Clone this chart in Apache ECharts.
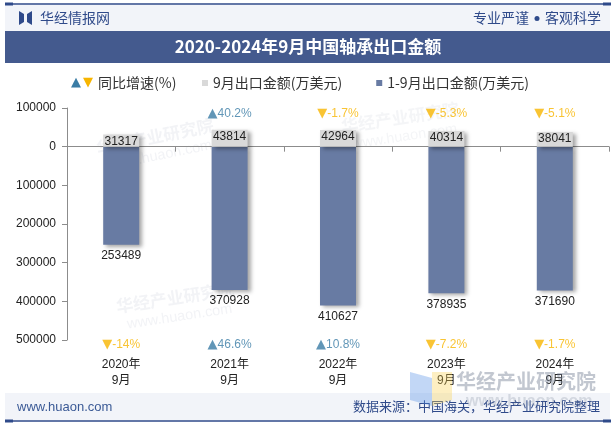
<!DOCTYPE html>
<html>
<head>
<meta charset="utf-8">
<script src="https://cdn.jsdelivr.net/npm/echarts@6/dist/echarts.min.js"></script>
<style>
html,body{margin:0;padding:0;background:#fff;}
#main{width:615px;height:427px;}
</style>
</head>
<body>
<div id="main"></div>
<script>
// ---- data ----
const categories = ['2020年\n9月', '2021年\n9月', '2022年\n9月', '2023年\n9月', '2024年\n9月'];
const septValues = [31317, 43814, 42964, 40314, 38041];          // 9月出口金额(万美元)
const ytdValues = [253489, 370928, 410627, 378935, 371690];      // 1-9月出口金额(万美元)
const septGrowth = [null, 40.2, -1.7, -5.3, -5.1];               // 9月同比增速(%)
const ytdGrowth = [-14, 46.6, 10.8, -7.2, -1.7];                 // 1-9月同比增速(%)
const yTicks = { min: -500000, max: 100000, interval: 100000 };

// ---- style ----
const UP = '#3a7ca5', DOWN = '#f7b500';
const NAVY = '#2f4a8a';
const FONT = "Arial, 'Liberation Sans', 'Noto Sans CJK SC', sans-serif";
const CJK = "'Noto Sans CJK SC', 'Liberation Sans', sans-serif";
const TRI = "'DejaVu Sans', sans-serif";

function growthText(g) {
  if (g === null || g === undefined) return '';
  return g >= 0 ? '{up|▲}{upt|' + g + '%}' : '{dn|▼}{dnt|' + g + '%}';
}
function growthSeries(arr, yPos, offY) {
  return {
    type: 'scatter',
    xAxisIndex: 0,
    symbolSize: 1,
    clip: false,
    silent: true,
    itemStyle: { color: 'rgba(0,0,0,0)' },
    z: 5,
    data: arr.map(g => g === null ? '-' : yPos),
    label: {
      show: true,
      position: 'inside',
      offset: [0, offY],
      fontSize: 12,
      fontFamily: FONT,
      formatter: p => growthText(arr[p.dataIndex]),
      rich: {
        up: { fontFamily: TRI, fontSize: 13, color: UP },
        upt: { fontFamily: FONT, fontSize: 12, color: UP },
        dn: { fontFamily: TRI, fontSize: 13, color: DOWN },
        dnt: { fontFamily: FONT, fontSize: 12, color: DOWN }
      }
    }
  };
}

const chart = echarts.init(document.getElementById('main'), null, { renderer: 'canvas' });

const wmText = (x, y, rot, size, op) => ([
  { type: 'text', x: x, y: y, rotation: rot, z: 0, silent: true,
    style: { text: '华经产业研究院', fontSize: size, fontWeight: 'bold', fontFamily: CJK, fill: 'rgba(150,160,180,' + op + ')' } },
  { type: 'text', x: x + 8 * Math.sin(rot) + 10, y: y + size + 4 - 10 * Math.sin(rot), rotation: rot, z: 0, silent: true,
    style: { text: 'www.huaon.com', fontSize: size * 0.85, fontFamily: FONT, fill: 'rgba(150,160,180,' + op + ')' } }
]);

const option = {
  backgroundColor: '#ffffff',
  animation: false,
  textStyle: { fontFamily: FONT },
  grid: { left: 67, right: 6, top: 108, bottom: 87, containLabel: false },
  legend: {
    left: 202, top: 76,
    icon: 'rect', itemWidth: 6, itemHeight: 6, itemGap: 34,
    padding: 0,
    textStyle: { fontSize: 14, color: '#333', fontFamily: CJK },
    data: ['9月出口金额(万美元)', '1-9月出口金额(万美元)']
  },
  xAxis: [
    {
      type: 'category', data: categories,
      axisLine: { onZero: true, lineStyle: { color: '#8c8c8c', width: 1 } },
      axisTick: { show: true, length: 5, lineStyle: { color: '#8c8c8c' } },
      axisLabel: { show: false }
    },
    {
      type: 'category', data: categories, position: 'bottom',
      axisLine: { show: false }, axisTick: { show: false },
      axisLabel: { show: true, margin: 17, fontSize: 12, lineHeight: 16, color: '#222', fontFamily: FONT }
    }
  ],
  yAxis: {
    type: 'value', min: yTicks.min, max: yTicks.max, interval: yTicks.interval,
    axisLine: { show: true, lineStyle: { color: '#8c8c8c' } },
    axisTick: { show: true, length: 5, lineStyle: { color: '#8c8c8c' } },
    splitLine: { show: false },
    axisLabel: { fontSize: 12, color: '#222', margin: 11, fontFamily: FONT, formatter: v => String(Math.abs(v)) }
  },
  series: [
    {
      name: '9月出口金额(万美元)', type: 'bar', xAxisIndex: 0,
      barWidth: 36, barGap: '-100%',
      data: septValues,
      itemStyle: { color: '#d9d9d9', shadowColor: 'rgba(0,0,0,0.35)', shadowBlur: 4, shadowOffsetX: 3, shadowOffsetY: 2 },
      label: { show: true, position: 'insideTop', distance: 1, fontSize: 12, color: '#222', fontFamily: FONT },
      z: 3
    },
    {
      name: '1-9月出口金额(万美元)', type: 'bar', xAxisIndex: 0,
      barWidth: 36, barGap: '-100%',
      data: ytdValues.map(v => -v),
      itemStyle: { color: '#687ba3', shadowColor: 'rgba(0,0,0,0.35)', shadowBlur: 4, shadowOffsetX: 3, shadowOffsetY: 2 },
      label: { show: true, position: 'bottom', distance: 5, fontSize: 12, color: '#222', fontFamily: FONT,
        formatter: p => String(Math.abs(p.value)) },
      z: 2
    },
    growthSeries(septGrowth, 85000, 0),
    growthSeries(ytdGrowth, -500000, 5)
  ],
  graphic: [
    // watermarks (faint)
    ...wmText(95, 140, 0.2, 17, 0.12),
    ...wmText(115, 298, 0.15, 17, 0.12),
    ...wmText(340, 118, 0.15, 17, 0.1),
    // header
    { type: 'rect', shape: { x: 5, y: 5, width: 605, height: 26 }, style: { fill: '#f2f4f9' }, z: -1 },
    { type: 'line', shape: { x1: 5, y1: 4, x2: 610, y2: 4 }, style: { stroke: NAVY, lineWidth: 1.5 } },
    { type: 'rect', shape: { x: 5, y: 2.5, width: 8, height: 3 }, style: { fill: NAVY } },
    { type: 'rect', shape: { x: 603, y: 2.5, width: 8, height: 3 }, style: { fill: NAVY } },
    { type: 'polygon', shape: { points: [[19, 11], [24, 14], [24, 22], [19, 25]] }, style: { fill: NAVY } },
    { type: 'polygon', shape: { points: [[32, 11], [27, 14], [27, 22], [32, 25]] }, style: { fill: NAVY } },
    { type: 'text', x: 40, y: 18, style: { text: '华经情报网', fontSize: 14, fontFamily: CJK, fill: NAVY, verticalAlign: 'middle' } },
    { type: 'text', x: 529, y: 18, style: { text: '专业严谨', fontSize: 14, fontFamily: CJK, fill: NAVY, align: 'right', verticalAlign: 'middle' } },
    { type: 'circle', shape: { cx: 537, cy: 18.5, r: 2.5 }, style: { fill: NAVY } },
    { type: 'text', x: 601, y: 18, style: { text: '客观科学', fontSize: 14, fontFamily: CJK, fill: NAVY, align: 'right', verticalAlign: 'middle' } },
    // title band
    { type: 'rect', shape: { x: 5, y: 31, width: 605, height: 32 }, style: { fill: '#445a8e' } },
    { type: 'text', x: 308, y: 47, style: { text: '2020-2024年9月中国轴承出口金额', fontSize: 17, fontWeight: 'bold', fontFamily: CJK, fill: '#ffffff', align: 'center', verticalAlign: 'middle' } },
    // legend: growth item
    { type: 'text', x: 71, y: 83, style: { text: '▲', fontSize: 13, fontFamily: TRI, fill: UP, verticalAlign: 'middle' } },
    { type: 'text', x: 83, y: 83, style: { text: '▼', fontSize: 13, fontFamily: TRI, fill: DOWN, verticalAlign: 'middle' } },
    { type: 'text', x: 98, y: 83, style: { text: '同比增速(%)', fontSize: 14, fontFamily: CJK, fill: '#333', verticalAlign: 'middle' } },
    // footer
    { type: 'rect', shape: { x: 5, y: 393, width: 605, height: 27 }, style: { fill: '#f2f4f9' } },
    { type: 'line', shape: { x1: 5, y1: 421, x2: 610, y2: 421 }, style: { stroke: NAVY, lineWidth: 1.5 } },
    { type: 'rect', shape: { x: 5, y: 419.5, width: 8, height: 3 }, style: { fill: NAVY } },
    { type: 'rect', shape: { x: 603, y: 419.5, width: 8, height: 3 }, style: { fill: NAVY } },
    { type: 'text', x: 17, y: 407, style: { text: 'www.huaon.com', fontSize: 13, fontFamily: FONT, fill: '#3b5a96', verticalAlign: 'middle' } },
    { type: 'text', x: 600, y: 406, style: { text: '数据来源：中国海关，华经产业研究院整理', fontSize: 13, fontFamily: CJK, fill: NAVY, align: 'right', verticalAlign: 'middle' } },
    // bottom-right watermark logo
    { type: 'polygon', shape: { points: [[410, 372], [432, 378], [432, 406], [410, 400]] }, style: { fill: 'rgba(80,140,230,0.35)' }, z: 10, silent: true },
    { type: 'polygon', shape: { points: [[432, 372], [452, 372], [452, 400], [432, 406]] }, style: { fill: 'rgba(250,210,80,0.35)' }, z: 10, silent: true },
    { type: 'text', x: 456, y: 381, z: 10, silent: true, style: { text: '华经产业研究院', fontSize: 20, fontWeight: 'bold', fontFamily: CJK, fill: 'rgba(120,130,150,0.45)', verticalAlign: 'middle' } },
    { type: 'text', x: 466, y: 402, z: 10, silent: true, style: { text: 'www.huaon.com', fontSize: 16, fontWeight: 'bold', fontFamily: FONT, fill: 'rgba(120,130,150,0.25)', verticalAlign: 'middle' } }
  ]
};
chart.setOption(option);
</script>
</body>
</html>
